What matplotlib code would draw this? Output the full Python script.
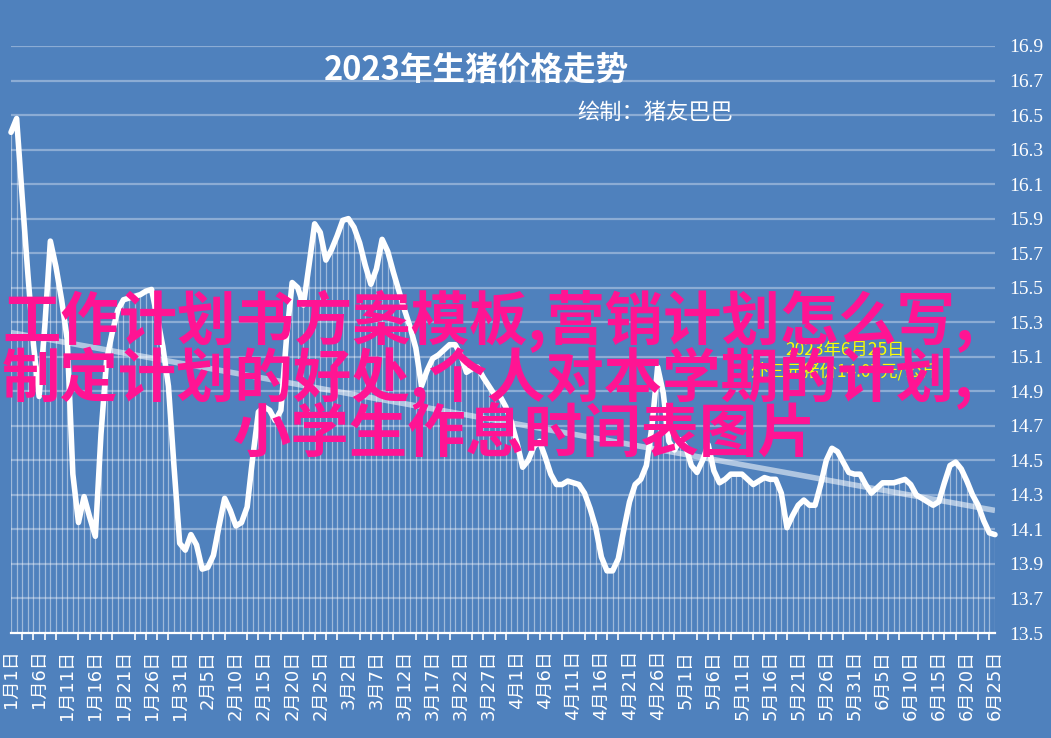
import numpy as np
import matplotlib
matplotlib.use("Agg")
import matplotlib.pyplot as plt

# ---------------- data ----------------
prices = [
    16.40, 16.48, 16.02, 15.58, 15.17, 14.87, 15.27, 15.77, 15.62, 15.43,
    15.20, 14.42, 14.14, 14.29, 14.17, 14.06, 14.65, 15.08, 15.24, 15.37,
    15.43, 15.44, 15.45, 15.46, 15.48, 15.49, 15.33, 15.16, 14.93, 14.46,
    14.02, 13.98, 14.07, 14.01, 13.87, 13.88, 13.95, 14.12, 14.28, 14.21,
    14.12, 14.14, 14.23, 14.52, 14.78, 14.81, 14.79, 14.73, 14.79, 15.21,
    15.53, 15.50, 15.40, 15.63, 15.87, 15.82, 15.66, 15.72, 15.80, 15.89,
    15.90, 15.85, 15.76, 15.63, 15.52, 15.61, 15.78, 15.71, 15.59, 15.48,
    15.37, 15.27, 15.15, 14.93, 15.02, 15.09, 15.11, 15.14, 15.17, 15.17,
    15.11, 15.01, 15.03, 15.04, 14.98, 14.93, 14.88, 14.87, 14.81, 14.72,
    14.60, 14.46, 14.50, 14.58, 14.61, 14.52, 14.42, 14.36, 14.36, 14.38,
    14.37, 14.36, 14.31, 14.22, 14.11, 13.94, 13.86, 13.86, 13.93, 14.10,
    14.26, 14.36, 14.39, 14.47, 14.70, 15.04, 14.89, 14.61, 14.56, 14.62,
    14.58, 14.47, 14.43, 14.50, 14.59, 14.44, 14.37, 14.39, 14.42, 14.42,
    14.42, 14.39, 14.36, 14.38, 14.40, 14.39, 14.39, 14.31, 14.11, 14.18,
    14.24, 14.27, 14.24, 14.24, 14.36, 14.50, 14.57, 14.55, 14.49, 14.43,
    14.42, 14.42, 14.36, 14.31, 14.34, 14.37, 14.37, 14.37, 14.38, 14.39,
    14.36, 14.30, 14.28, 14.26, 14.24, 14.26, 14.37, 14.47, 14.49, 14.45,
    14.38, 14.30, 14.24, 14.15, 14.08, 14.07,
]
days = list(range(len(prices)))          # 1月1日 .. 6月25日 (daily)

x_tick_days = list(range(0, 176, 5))
x_tick_labels = [
    "1月1日", "1月6日", "1月11日", "1月16日", "1月21日", "1月26日", "1月31日",
    "2月5日", "2月10日", "2月15日", "2月20日", "2月25日", "3月2日", "3月7日",
    "3月12日", "3月17日", "3月22日", "3月27日", "4月1日", "4月6日", "4月11日",
    "4月16日", "4月21日", "4月26日", "5月1日", "5月6日", "5月11日", "5月16日",
    "5月21日", "5月26日", "5月31日", "6月5日", "6月10日", "6月15日", "6月20日",
    "6月25日",
]
y_ticks = [13.5, 13.7, 13.9, 14.1, 14.3, 14.5, 14.7, 14.9, 15.1, 15.3,
           15.5, 15.7, 15.9, 16.1, 16.3, 16.5, 16.7, 16.9]
y_tick_labels = ["13.5", "13.7", "13.9", "14.1", "14.3", "14.5", "14.7", "14.9",
                 "15.1", "15.3", "15.5", "15.7", "15.9", "16.1", "16.3", "16.5",
                 "16.7", "16.9"]
trend_ends = [15.24, 14.21]   # linear trend line, start and end value

title = "2023年生猪价格走势"
subtitle = "绘制：猪友巴巴"
note_lines = ["2023年6月25日", "外三元猪价14.07元/公斤"]
overlay_lines = ["工作计划书方案模板,营销计划怎么写,",
                 "制定计划的好处,个人对本学期的计划,",
                 "小学生作息时间表图片"]

# ---------------- drawing ----------------
W, H = 1051, 738
BG = "#4f81bd"
CJK = ["Noto Sans CJK SC", "DejaVu Sans"]
plt.rcParams["font.family"] = CJK

fig = plt.figure(figsize=(W / 100, H / 100), dpi=100, facecolor=BG)
ax = fig.add_axes([11 / W, (H - 633) / H, (995 - 11) / W, (633 - 46) / H])
ax.set_facecolor(BG)
ax.set_xlim(0, len(prices) - 1)
ax.set_ylim(y_ticks[0], y_ticks[-1])

# horizontal gridlines
for yv in y_ticks[1:]:
    ax.axhline(yv, color="white", alpha=0.35, lw=1.6, zorder=1)

# drop lines
ax.vlines(days, y_ticks[0], prices, color="white", alpha=0.45, lw=0.9, zorder=2)

# trend line
ax.plot([days[0], days[-1]], trend_ends, color="white", alpha=0.55, lw=4,
        solid_capstyle="butt", zorder=3)

# main line
ax.plot(days, prices, color="white", lw=4, solid_joinstyle="round",
        solid_capstyle="round", zorder=4, clip_on=False)

for s in ["top", "left", "right"]:
    ax.spines[s].set_visible(False)
ax.spines["bottom"].set_color("white")
ax.spines["bottom"].set_linewidth(1.6)
ax.spines["bottom"].set_zorder(5)

ax.set_xticks(x_tick_days)
ax.set_xticklabels(x_tick_labels, rotation=90, color="white", fontsize=13,
                   family=["DejaVu Sans", "Noto Sans CJK SC"])
ax.set_xticks(list(range(0, 176, 2)), minor=True)
ax.tick_params(axis="x", which="major", length=0, pad=12)
ax.tick_params(axis="x", which="minor", length=5, width=1.2, color="white",
               direction="out")

ax.yaxis.tick_right()
ax.set_yticks(y_ticks)
ax.set_yticklabels(y_tick_labels, color="white", fontsize=14,
                   family="Liberation Serif")
ax.tick_params(axis="y", length=0, pad=10)


def px(x, y):
    return x / W, 1 - y / H


fig.text(*px(477, 71), title, color="white", fontsize=23.5, ha="center",
         va="center", fontweight="bold")
fig.text(*px(655, 112), subtitle, color="white", fontsize=16, ha="center",
         va="center")

fig.text(*px(845, 350), note_lines[0], color="#ffff00", fontsize=12.5,
         ha="center", va="center", zorder=4)
fig.text(*px(845, 371), note_lines[1], color="#ffff00", fontsize=12.5,
         ha="center", va="center", zorder=4)

PINK = "#ff1493"
fig.text(*px(2, 322), overlay_lines[0], color=PINK, fontsize=42, ha="left",
         va="center", fontweight="bold", zorder=6)
fig.text(*px(2, 378), overlay_lines[1], color=PINK, fontsize=42, ha="left",
         va="center", fontweight="bold", zorder=6)
fig.text(*px(525, 435), overlay_lines[2], color=PINK, fontsize=42, ha="center",
         va="center", fontweight="bold", zorder=6)

fig.savefig("out.png", dpi=100, facecolor=BG)
